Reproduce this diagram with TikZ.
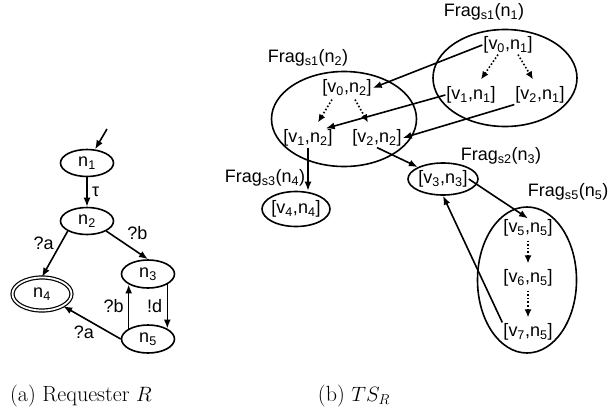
\documentclass[tikz,border=0pt]{standalone}
\usepackage{fontspec}
\newfontfamily\lab{Liberation Sans}
\usetikzlibrary{shapes.geometric,arrows.meta,calc}
\begin{document}
\begin{tikzpicture}[x=1pt,y=-1pt,
  every node/.style={font=\lab\fontsize{18}{20}\selectfont},
  st/.style={draw, ellipse, line width=1.6pt, inner sep=0pt},
  txt/.style={inner sep=1pt},
  arr/.style={line width=1.6pt, -{Latex[length=9pt,width=7pt]}},
  dotarr/.style={line width=1.6pt, dotted, -{Latex[length=8pt,width=7pt]}},
  captext/.style={font=\rmfamily\fontsize{22}{26}\selectfont}]
\useasboundingbox (0,0) rectangle (609,415);
% ---------- (a) Requester ----------
\coordinate (init) at (107,129);
\node[st, minimum width=53, minimum height=27] (n1) at (87,163) {n\textsubscript{1}};
\node[st, minimum width=53, minimum height=27] (n2) at (87,221) {n\textsubscript{2}};
\node[st, minimum width=53, minimum height=28] (n3) at (148,274) {n\textsubscript{3}};
\node[st, minimum width=53, minimum height=28] (n5) at (148,339) {n\textsubscript{5}};
\node[st, double, double distance=1.8pt, line width=1.2pt, minimum width=59, minimum height=33] (n4) at (42,294) {n\textsubscript{4}};
\draw[arr] (init) -- (n1);
\draw[arr] (n1) -- node[right, xshift=1pt] {τ} (n2);
\draw[arr] (n2.south west) -- node[above left, xshift=3pt] {?a} (n4.north);
\draw[arr] (n2.south east) -- node[above right, xshift=-4pt, yshift=1pt] {?b} (n3.north);
\draw[arr] (n3.south east) -- node[left, xshift=-1pt] {!d} (n5.north east);
\draw[arr] (n5.north west) -- node[left, xshift=-1pt] {?b} (n3.south west);
\draw[arr] (n5.west) -- node[below left, xshift=6pt, yshift=1pt] {?a} (n4);
\node[captext] (capa) at (81,396) {(a) Requester $R$};
% ---------- (b) TS_R ----------
\node[st, minimum width=144, minimum height=97] (E1) at (505,78) {};
\node (L1) at (484,12) {Frag\textsubscript{s1}(n\textsubscript{1})};
\node[txt] (v0n1) at (508,45) {[v\textsubscript{0},n\textsubscript{1}]};
\node[txt] (v1n1) at (471,95) {[v\textsubscript{1},n\textsubscript{1}]};
\node[txt] (v2n1) at (540,95) {[v\textsubscript{2},n\textsubscript{1}]};
\node[st, minimum width=145, minimum height=95] (E2) at (344,119) {};
\node (L2) at (308,58) {Frag\textsubscript{s1}(n\textsubscript{2})};
\node[txt] (v0n2) at (347,88) {[v\textsubscript{0},n\textsubscript{2}]};
\node[txt] (v1n2) at (308,138) {[v\textsubscript{1},n\textsubscript{2}]};
\node[txt] (v2n2) at (377,138) {[v\textsubscript{2},n\textsubscript{2}]};
\node[st, minimum width=68, minimum height=35] (E4) at (296,209) {};
\node (L4) at (265,178) {Frag\textsubscript{s3}(n\textsubscript{4})};
\node[txt] (v4n4) at (296,209) {[v\textsubscript{4},n\textsubscript{4}]};
\node[st, minimum width=70, minimum height=32] (E3) at (443,179) {};
\node (L3) at (501,156) {Frag\textsubscript{s2}(n\textsubscript{3})};
\node[txt] (v3n3) at (443,179) {[v\textsubscript{3},n\textsubscript{3}]};
\node[st, minimum width=99, minimum height=146] (E5) at (527,280) {};
\node[anchor=east, inner sep=0.5pt] (L5) at (609,192) {Frag\textsubscript{s5}(n\textsubscript{5})};
\node[txt] (v5n5) at (528,228) {[v\textsubscript{5},n\textsubscript{5}]};
\node[txt] (v6n5) at (528,278) {[v\textsubscript{6},n\textsubscript{5}]};
\node[txt] (v7n5) at (528,332) {[v\textsubscript{7},n\textsubscript{5}]};
% dotted internal arrows
\draw[dotarr] ($(v0n1.south)+(-10,0)$) -- ($(v1n1.north)+(10,-6)$);
\draw[dotarr] ($(v0n1.south)+(10,0)$) -- ($(v2n1.north)+(-7,-6)$);
\draw[dotarr] ($(v0n2.south)+(-15,2)$) -- ($(v1n2.north)+(10,-6)$);
\draw[dotarr] ($(v0n2.south)+(8,2)$) -- ($(v2n2.north)+(-9,-6)$);
\draw[dotarr] ($(v5n5.south)+(0,3)$) -- ($(v6n5.north)+(0,-5)$);
\draw[dotarr] ($(v6n5.south)+(0,3)$) -- ($(v7n5.north)+(0,-5)$);
% solid arrows
\draw[arr] (v0n1.west) -- (v0n2.east);
\draw[arr] (v1n1.west) -- ($(v1n2.north east)+(-8,0)$);
\draw[arr] (v2n1.south west) -- (v2n2.east);
\draw[arr] (v1n2.south) -- (v1n2.south |- E4.north);
\draw[arr] (v2n2.south) -- (E3);
\draw[arr] (v3n3.east) -- (v5n5.north);
\draw[arr] (v7n5.north west) -- (E3.south);
\node[captext] (capb) at (354,396) {(b) $TS_R$};
\end{tikzpicture}
\end{document}
